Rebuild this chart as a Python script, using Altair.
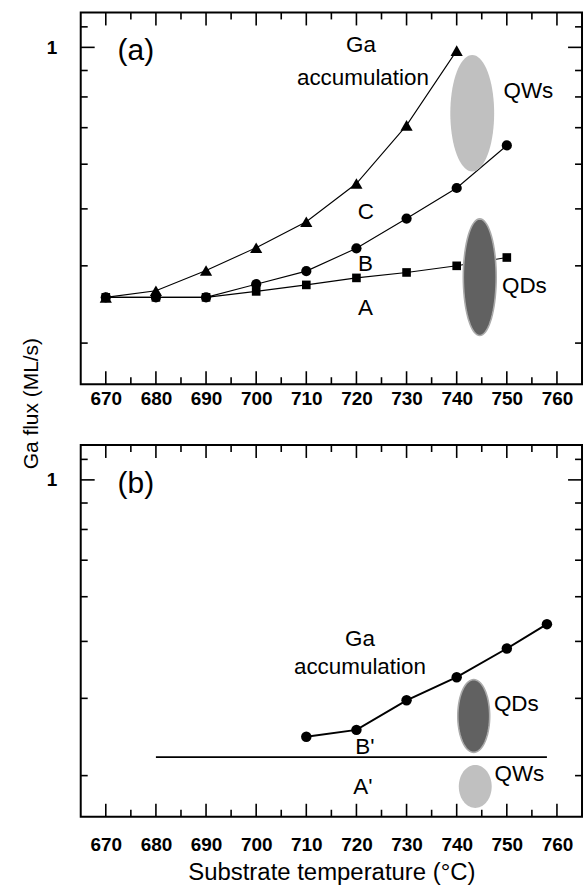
import altair as alt
import pandas as pd
import numpy as np

# ---------------- data ----------------
temps_a = [670, 680, 690, 700, 710, 720, 730, 740, 750]
flux_a_A = [0.355, 0.355, 0.355, 0.363, 0.372, 0.382, 0.390, 0.400, 0.413]
flux_a_B = [0.355, 0.355, 0.355, 0.373, 0.392, 0.428, 0.481, 0.544, 0.649]
temps_a_C = [670, 680, 690, 700, 710, 720, 730, 740]
flux_a_C = [0.355, 0.364, 0.393, 0.429, 0.475, 0.554, 0.707, 0.985]

temps_b = [710, 720, 730, 740, 750, 758]
flux_b_B = [0.346, 0.355, 0.397, 0.434, 0.486, 0.536]
temps_b_A = [680, 758]
flux_b_A = [0.321, 0.321]

x_major = [670, 680, 690, 700, 710, 720, 730, 740, 750, 760]
x_minor = [675, 685, 695, 705, 715, 725, 735, 745, 755]
y_major = [1.0]
y_minor = [1.1, 0.9, 0.8, 0.7, 0.6, 0.5, 0.4, 0.3]

# growth regions (ellipse centres)
region_a_temp = [743.1, 744.6]      # QWs, QDs
region_a_flux = [0.745, 0.383]
region_b_temp = [743.4, 743.7]      # QDs, QWs
region_b_flux = [0.374, 0.2885]

labels_a_text = ["Ga", "accumulation", "QWs", "QDs", "C", "B", "A"]
labels_a_temp = [720.9, 721.3, 754.3, 753.5, 721.9, 721.8, 721.8]
labels_a_flux = [0.977, 0.844, 0.796, 0.361, 0.481, 0.392, 0.333]

labels_b_text = ["Ga", "accumulation", "QDs", "QWs", "B'", "A'"]
labels_b_temp = [720.7, 720.7, 751.9, 752.5, 721.7, 721.3]
labels_b_flux = [0.491, 0.439, 0.3815, 0.294, 0.325, 0.281]

tag_text = ["(a)", "(b)"]
tag_temp = [676.0, 676.0]
tag_flux = [0.944, 0.940]

# ---------------- styling ----------------
FONT = "Liberation Sans"
W, H = 503, 373
MAJ, MIN = 13, 7

xscale = alt.Scale(domain=[665, 765], nice=False, zero=False)
yscale = alt.Scale(type="pow", exponent=-0.2, domain=[0.2591, 1.1773], nice=False, zero=False)


def xaxis(pad, with_title):
    kw = dict(values=x_major, format="d", labelFont=FONT, labelFontWeight="bold",
              labelFontSize=19, labelColor="black", ticks=False, tickSize=0,
              domain=False, grid=False, labelPadding=pad, labelFlush=False,
              labelOverlap=False, title=None)
    if with_title:
        kw.update(title="Substrate temperature (°C)", titleFont=FONT, titleFontSize=24,
                  titleFontWeight="normal", titleColor="black", titleY=63,
                  titleBaseline="alphabetic")
    return alt.Axis(**kw)


def yaxis(with_title):
    kw = dict(values=y_major, format="d", labelFont=FONT, labelFontWeight="bold",
              labelFontSize=19, labelColor="black", ticks=False, tickSize=0,
              domain=False, grid=False, labelPadding=24, labelOverlap=False, title=None)
    if with_title:
        kw.update(title="Ga flux (ML/s)", titleFont=FONT, titleFontSize=21,
                  titleFontWeight="normal", titleColor="black", titleAngle=270,
                  titleAlign="center", titleBaseline="alphabetic", titleX=-43, titleY=392)
    return alt.Axis(**kw)


def ellipse_path(ratio, n=72):
    pts = []
    for t in np.linspace(0, 2 * np.pi, n, endpoint=False):
        pts.append(f"{ratio * np.cos(t):.4f},{np.sin(t):.4f}")
    return "M" + " L".join(pts) + " Z"


def build_panel(xax, yax, series, ellipses, texts):
    X = alt.X("t:Q", scale=xscale, axis=xax)
    Y = alt.Y("f:Q", scale=yscale, axis=yax)
    layers = []
    # connecting lines
    for df, mk in series:
        layers.append(alt.Chart(df).mark_line(color="black", strokeWidth=mk["lw"]).encode(x=X, y=Y))
    # growth-mode regions
    for t, f, w, h, fill, stroke in ellipses:
        props = dict(shape=ellipse_path(w / h), size=h * h, filled=True, fill=fill, opacity=1)
        if stroke:
            props.update(stroke=stroke, strokeWidth=1.6, strokeOpacity=1)
        else:
            props.update(strokeWidth=0)
        layers.append(alt.Chart(pd.DataFrame({"t": [t], "f": [f]})).mark_point(**props).encode(x=X, y=Y))
    # markers
    for df, mk in series:
        if mk.get("shape"):
            layers.append(alt.Chart(df).mark_point(shape=mk["shape"], filled=True, color="black",
                                                   size=mk["size"], opacity=1).encode(x=X, y=Y))
    # annotations
    for txt, tt, ff, fs in texts:
        df = pd.DataFrame({"t": tt, "f": ff, "s": txt})
        layers.append(alt.Chart(df).mark_text(font=FONT, fontSize=fs, align="center",
                                              baseline="alphabetic", color="black").encode(
            x=X, y=Y, text="s:N"))
    # inward ticks on all four sides
    rule = dict(color="black", strokeWidth=1.6)
    for vals, ln in ((x_major, MAJ), (x_minor, MIN)):
        df = pd.DataFrame({"t": vals})
        layers.append(alt.Chart(df).mark_rule(**rule).encode(x=X, y=alt.value(H), y2=alt.value(H - ln)))
        layers.append(alt.Chart(df).mark_rule(**rule).encode(x=X, y=alt.value(0), y2=alt.value(ln)))
    for vals, ln in ((y_major, MAJ + 1), (y_minor, MIN)):
        df = pd.DataFrame({"f": vals})
        layers.append(alt.Chart(df).mark_rule(**rule).encode(y=Y, x=alt.value(0), x2=alt.value(ln)))
        layers.append(alt.Chart(df).mark_rule(**rule).encode(y=Y, x=alt.value(W), x2=alt.value(W - ln)))
    return alt.layer(*layers).properties(width=W, height=H)


# ---------------- panel (a) ----------------
series_a = [
    (pd.DataFrame({"t": temps_a, "f": flux_a_A}), {"lw": 1.1, "shape": "square", "size": 75}),
    (pd.DataFrame({"t": temps_a, "f": flux_a_B}), {"lw": 1.1, "shape": "circle", "size": 105}),
    (pd.DataFrame({"t": temps_a_C, "f": flux_a_C}), {"lw": 1.1, "shape": "triangle-up", "size": 150}),
]
ellipses_a = [
    (region_a_temp[0], region_a_flux[0], 44, 117, "#c0c0c0", None),
    (region_a_temp[1], region_a_flux[1], 33, 117, "#616161", "#ababab"),
]
texts_a = [
    (labels_a_text, labels_a_temp, labels_a_flux, 22.5),
    (tag_text[:1], tag_temp[:1], tag_flux[:1], 30),
]
panel_a = build_panel(xaxis(5, False), yaxis(True), series_a, ellipses_a, texts_a)

# ---------------- panel (b) ----------------
series_b = [
    (pd.DataFrame({"t": temps_b_A, "f": flux_b_A}), {"lw": 1.8}),
    (pd.DataFrame({"t": temps_b, "f": flux_b_B}), {"lw": 2.0, "shape": "circle", "size": 110}),
]
ellipses_b = [
    (region_b_temp[0], region_b_flux[0], 32, 73, "#616161", "#ababab"),
    (region_b_temp[1], region_b_flux[1], 33, 43, "#c0c0c0", None),
]
texts_b = [
    (labels_b_text, labels_b_temp, labels_b_flux, 22.5),
    (tag_text[1:], tag_temp[1:], tag_flux[1:], 30),
]
panel_b = build_panel(xaxis(19, True), yaxis(False), series_b, ellipses_b, texts_b)

chart = alt.vconcat(panel_a, panel_b, spacing=61, bounds="flush").properties(
    padding={"left": 20, "top": 9, "right": 2, "bottom": 2},
    background="white",
).configure_view(stroke="black", strokeWidth=2)

chart.save("out.html", embed_options={"renderer": "svg", "actions": False})
